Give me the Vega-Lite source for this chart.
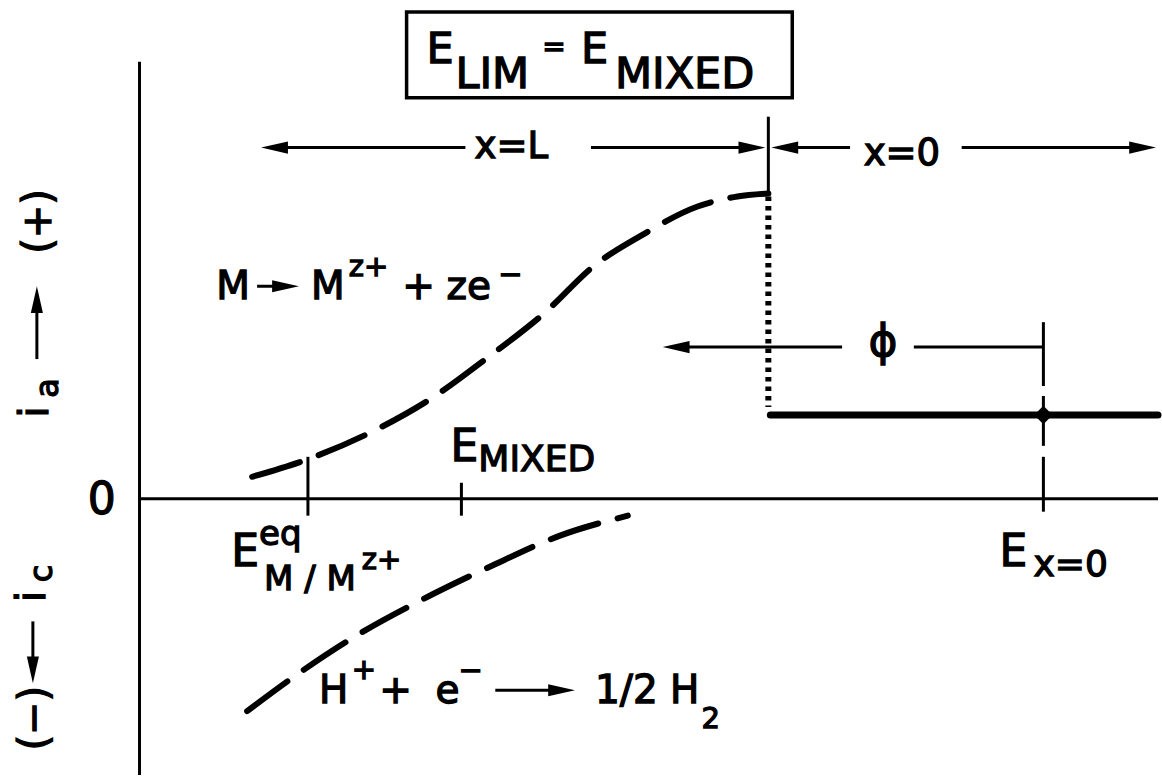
{
  "$schema": "https://vega.github.io/schema/vega-lite/v6.json",
  "width": 1162,
  "height": 777,
  "padding": 0,
  "autosize": {"type": "fit", "contains": "padding"},
  "background": "white",
  "config": {"view": {"stroke": null}, "font": "DejaVu Sans", "text": {"font": "DejaVu Sans", "color": "black", "stroke": "black", "strokeWidth": 1.3}},
  "datasets": {
    "seg": [
      {"x": 0, "y": 43.8, "x2": 0, "y2": -27.7},
      {"x": 0, "y": 0, "x2": 102.2, "y2": 0},
      {"x": 16.9, "y": 4.2, "x2": 16.9, "y2": -1.7},
      {"x": 32.3, "y": 1.6, "x2": 32.3, "y2": -1.7},
      {"x": 63.1, "y": 38.3, "x2": 63.1, "y2": 30.7},
      {"x": 13.0, "y": 35.2, "x2": 32.7, "y2": 35.2},
      {"x": 45.3, "y": 35.2, "x2": 61.5, "y2": 35.2},
      {"x": 64.5, "y": 35.2, "x2": 71.3, "y2": 35.2},
      {"x": 82.5, "y": 35.2, "x2": 100.5, "y2": 35.2},
      {"x": 53.5, "y": 15.2, "x2": 70.5, "y2": 15.2},
      {"x": 77.7, "y": 15.2, "x2": 90.7, "y2": 15.2},
      {"x": 90.7, "y": 17.7, "x2": 90.7, "y2": 11.3},
      {"x": 90.7, "y": 10.3, "x2": 90.7, "y2": 5.3},
      {"x": 90.7, "y": 4.2, "x2": 90.7, "y2": -1.3},
      {"x": 11.8, "y": 21.3, "x2": 15.0, "y2": 21.3},
      {"x": 35.7, "y": -19.2, "x2": 42.5, "y2": -19.2},
      {"x": -10.3, "y": 14.0, "x2": -10.3, "y2": 20.0},
      {"x": -10.7, "y": -12.3, "x2": -10.7, "y2": -17.3}
    ],
    "heads": [
      {"x": 12.2, "y": 35.2, "dir": "left"},
      {"x": 62.8, "y": 35.2, "dir": "right"},
      {"x": 63.4, "y": 35.2, "dir": "left"},
      {"x": 102.0, "y": 35.2, "dir": "right"},
      {"x": 52.5, "y": 15.2, "dir": "left"},
      {"x": 16.0, "y": 21.3, "dir": "right"},
      {"x": 43.7, "y": -19.2, "dir": "right"},
      {"x": -10.3, "y": 21.3, "dir": "up"},
      {"x": -10.7, "y": -18.5, "dir": "down"}
    ],
    "anodic": [
      {"x": 11.3, "y": 2.2},
      {"x": 17.0, "y": 4.0},
      {"x": 23.5, "y": 6.8},
      {"x": 29.2, "y": 10.0},
      {"x": 35.0, "y": 14.2},
      {"x": 40.5, "y": 18.5},
      {"x": 45.8, "y": 23.5},
      {"x": 50.2, "y": 26.3},
      {"x": 56.0, "y": 29.3},
      {"x": 60.0, "y": 30.3},
      {"x": 63.1, "y": 30.6}
    ],
    "cathodic": [
      {"x": 10.8, "y": -21.3},
      {"x": 15.7, "y": -17.7},
      {"x": 21.8, "y": -13.7},
      {"x": 28.2, "y": -10.2},
      {"x": 35.2, "y": -6.8},
      {"x": 42.2, "y": -3.7},
      {"x": 49.0, "y": -1.7}
    ]
  },
  "encoding": {
    "x": {"field": "x", "type": "quantitative", "scale": {"domain": [-14, 102.2], "nice": false, "zero": false}, "axis": null},
    "y": {"field": "y", "type": "quantitative", "scale": {"domain": [-27.7, 50], "nice": false, "zero": false}, "axis": null}
  },
  "layer": [
    {
      "data": {"values": [{"x": 26.8, "y": 48.8, "x2": 65.5, "y2": 40.2}]},
      "mark": {"type": "rect", "fill": null, "stroke": "black", "strokeWidth": 3.5},
      "encoding": {"x2": {"field": "x2"}, "y2": {"field": "y2"}}
    },
    {
      "data": {"name": "seg"},
      "mark": {"type": "rule", "color": "black", "strokeWidth": 3},
      "encoding": {"x2": {"field": "x2"}, "y2": {"field": "y2"}}
    },
    {
      "data": {"values": [{"x": 63.3, "y": 8.4, "x2": 102.2, "y2": 8.4}]},
      "mark": {"type": "rule", "color": "black", "strokeWidth": 7, "strokeCap": "round"},
      "encoding": {"x2": {"field": "x2"}, "y2": {"field": "y2"}}
    },
    {
      "data": {"values": [{"x": 63.1, "y": 30.3, "x2": 63.1, "y2": 9.2}]},
      "mark": {"type": "rule", "color": "black", "strokeWidth": 6, "strokeCap": "butt", "strokeDash": [4.5, 5]},
      "encoding": {"x2": {"field": "x2"}, "y2": {"field": "y2"}}
    },
    {
      "data": {"name": "anodic"},
      "mark": {"type": "line", "color": "black", "strokeWidth": 6, "strokeCap": "round", "strokeDash": [50, 20], "interpolate": "monotone"},
      "encoding": {}
    },
    {
      "data": {"name": "cathodic"},
      "mark": {"type": "line", "color": "black", "strokeWidth": 6, "strokeCap": "round", "strokeDash": [50, 20], "interpolate": "monotone"},
      "encoding": {}
    },
    {
      "data": {"values": [{"x": 90.7, "y": 8.4}]},
      "mark": {"type": "point", "shape": "diamond", "filled": true, "color": "black", "size": 340, "opacity": 1},
      "encoding": {}
    },
    {
      "data": {"name": "heads"},
      "mark": {"type": "point", "filled": true, "color": "black", "size": 720, "opacity": 1},
      "encoding": {
        "shape": {"field": "dir", "type": "nominal", "legend": null,
          "scale": {"domain": ["left", "right", "up", "down"],
            "range": ["M0,0L2,-0.45L2,0.45Z", "M0,0L-2,-0.45L-2,0.45Z", "M0,0L-0.45,2L0.45,2Z", "M0,0L-0.45,-2L0.45,-2Z"]}}
      }
    },
    {
      "data": {"values": [
        {"x": 28.8, "y": 43.7, "t": "E"},
        {"x": 31.7, "y": 41.2, "t": "LIM"},
        {"x": 44.3, "y": 43.7, "t": "E"},
        {"x": 47.7, "y": 41.2, "t": "MIXED"}
      ]},
      "mark": {"type": "text", "fontSize": 43, "align": "left", "baseline": "alphabetic"},
      "encoding": {"text": {"field": "t"}}
    },
    {
      "data": {"values": [{"x": 41.6, "y": 44.4, "t": "="}]},
      "mark": {"type": "text", "fontSize": 28, "align": "center", "baseline": "alphabetic"},
      "encoding": {"text": {"field": "t"}}
    },
    {
      "data": {"values": [
        {"x": 31.2, "y": 3.8, "t": "E"},
        {"x": 9.2, "y": -6.7, "t": "E"},
        {"x": 86.3, "y": -6.7, "t": "E"}
      ]},
      "mark": {"type": "text", "fontSize": 44, "align": "left", "baseline": "alphabetic"},
      "encoding": {"text": {"field": "t"}}
    },
    {
      "data": {"values": [
        {"x": -3.8, "y": -1.5, "t": "0"},
        {"x": 74.6, "y": 14.3, "t": "ϕ"}
      ]},
      "mark": {"type": "text", "fontSize": 44, "align": "center", "baseline": "alphabetic"},
      "encoding": {"text": {"field": "t"}}
    },
    {
      "data": {"values": [
        {"x": 34.0, "y": 2.8, "t": "MIXED"},
        {"x": 89.7, "y": -7.7, "t": "x=0"}
      ]},
      "mark": {"type": "text", "fontSize": 36, "align": "left", "baseline": "alphabetic"},
      "encoding": {"text": {"field": "t"}}
    },
    {
      "data": {"values": [
        {"x": 12.5, "y": -9.2, "t": "M / M"},
        {"x": 12.0, "y": -4.6, "t": "eq"}
      ]},
      "mark": {"type": "text", "fontSize": 34, "align": "left", "baseline": "alphabetic"},
      "encoding": {"text": {"field": "t"}}
    },
    {
      "data": {"values": [
        {"x": 7.7, "y": 20.0, "t": "M"},
        {"x": 17.2, "y": 20.0, "t": "M"},
        {"x": 30.8, "y": 20.0, "t": "ze"},
        {"x": 18.0, "y": -20.5, "t": "H"},
        {"x": 29.7, "y": -20.5, "t": "e"},
        {"x": 45.7, "y": -20.5, "t": "1/2 H"}
      ]},
      "mark": {"type": "text", "fontSize": 39, "align": "left", "baseline": "alphabetic"},
      "encoding": {"text": {"field": "t"}}
    },
    {
      "data": {"values": [
        {"x": 28.0, "y": 20.0, "t": "+"},
        {"x": 25.7, "y": -20.5, "t": "+"}
      ]},
      "mark": {"type": "text", "fontSize": 39, "align": "center", "baseline": "alphabetic"},
      "encoding": {"text": {"field": "t"}}
    },
    {
      "data": {"values": [
        {"x": 21.0, "y": 22.3, "t": "z+"},
        {"x": 22.3, "y": -7.0, "t": "z+"},
        {"x": 56.4, "y": -23.0, "t": "2"},
        {"x": 21.3, "y": -18.1, "t": "+"},
        {"x": 32.0, "y": -18.2, "t": "−"},
        {"x": 36.0, "y": 21.5, "t": "−"}
      ]},
      "mark": {"type": "text", "fontSize": 29, "align": "left", "baseline": "alphabetic"},
      "encoding": {"text": {"field": "t"}}
    },
    {
      "data": {"values": [
        {"x": 37.3, "y": 34.2, "t": "x=L"},
        {"x": 76.5, "y": 33.5, "t": "x=0"}
      ]},
      "mark": {"type": "text", "fontSize": 37, "align": "center", "baseline": "alphabetic"},
      "encoding": {"text": {"field": "t"}}
    },
    {
      "data": {"values": [
        {"x": -8.9, "y": 27.8, "t": "(+)"},
        {"x": -9.3, "y": -22.0, "t": "(−)"},
        {"x": -9.2, "y": 8.7, "t": "i"},
        {"x": -9.5, "y": -9.8, "t": "i"}
      ]},
      "mark": {"type": "text", "fontSize": 40, "align": "center", "baseline": "alphabetic", "angle": 270},
      "encoding": {"text": {"field": "t"}}
    },
    {
      "data": {"values": [
        {"x": -8.2, "y": 11.1, "t": "a"},
        {"x": -8.8, "y": -7.5, "t": "c"}
      ]},
      "mark": {"type": "text", "fontSize": 32, "align": "center", "baseline": "alphabetic", "angle": 270},
      "encoding": {"text": {"field": "t"}}
    }
  ]
}
